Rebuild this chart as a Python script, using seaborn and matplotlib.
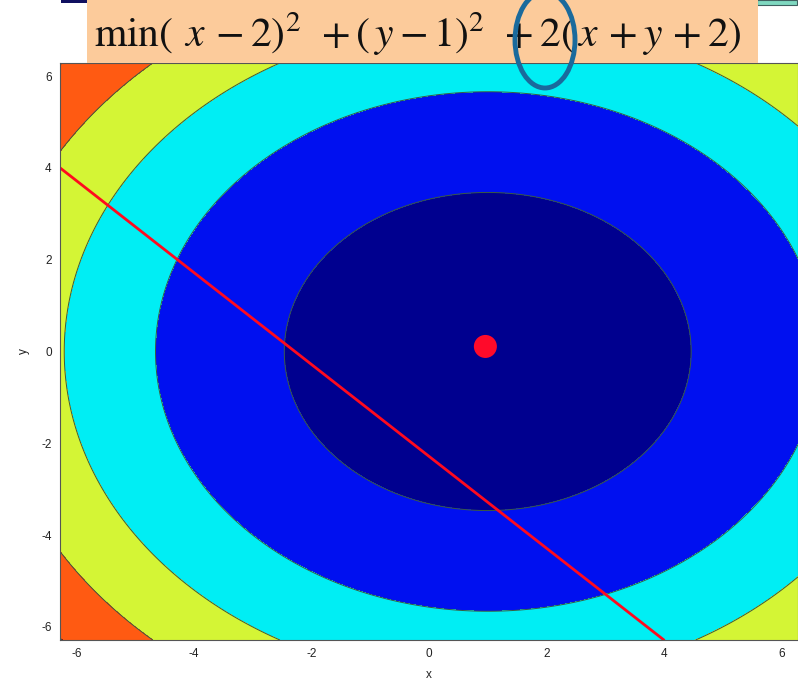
import numpy as np
import pandas as pd
import matplotlib
matplotlib.use("Agg")
import matplotlib.pyplot as plt
from matplotlib.patches import Rectangle, Ellipse
import seaborn as sns

# Objective f(x, y) = (x-2)^2 + (y-1)^2 + 2(x+y+2), sampled on [-2pi, 2pi]^2
x_range = [-2 * np.pi, 2 * np.pi]
y_range = [-2 * np.pi, 2 * np.pi]
contour_levels = [0, 20, 40, 60, 80, 100, 120]
band_colors = ["#00008f", "#0010f0", "#00eef4", "#d4f535", "#ff5a12", "#b00000"]

# Constraint line x + y + 2 = 0 as drawn
constraint_x = [-2 * np.pi, 4.0]
constraint_y = [4.0, -2 * np.pi]

# Minimiser marker
min_x = [0.96]
min_y = [0.11]

x_ticks = [-6, -4, -2, 0, 2, 4, 6]
y_ticks = [-6, -4, -2, 0, 2, 4, 6]

title_text = (r"$\mathrm{min}(\;\,x\,-2)^2\;\,+(\,y-1)^2\;\,+2(\,x\,+y\,+2)$")

sns.set_style("white")
plt.rcParams["font.family"] = ["Liberation Sans", "DejaVu Sans"]
plt.rcParams["mathtext.fontset"] = "stix"
plt.rcParams["axes.unicode_minus"] = False

fig = plt.figure(figsize=(7.98, 6.82), dpi=100)
ax = fig.add_axes([60 / 798, 1 - 640 / 682, (798 - 60) / 798, (640 - 63) / 682])

xs = np.linspace(x_range[0], x_range[1], 400)
ys = np.linspace(y_range[0], y_range[1], 400)
X, Y = np.meshgrid(xs, ys)
Z = (X - 2) ** 2 + (Y - 1) ** 2 + 2 * (X + Y + 2)

ax.contourf(X, Y, Z, levels=contour_levels, colors=band_colors)
ax.contour(X, Y, Z, levels=contour_levels[1:-1], colors="#3a5a40", linewidths=0.7)

line_df = pd.DataFrame({"x": constraint_x, "y": constraint_y})
sns.lineplot(data=line_df, x="x", y="y", ax=ax, color="#ff0a1e", linewidth=2, sort=False)

pt_df = pd.DataFrame({"x": min_x, "y": min_y})
sns.scatterplot(data=pt_df, x="x", y="y", ax=ax, color="#ff0a2a", s=275,
                edgecolor="none", zorder=5)

ax.set_xlim(x_range)
ax.set_ylim(y_range)
ax.set_xticks(x_ticks)
ax.set_yticks(y_ticks)
ax.tick_params(labelsize=8.5, length=0, pad=6, colors="#222222")
ax.set_xlabel("x", fontsize=8.5, labelpad=6, color="#222222")
ax.set_ylabel("y", fontsize=8.5, labelpad=8, color="#222222")
for side in ax.spines.values():
    side.set_color("#555555")
    side.set_linewidth(0.8)

# Slide strips peeking above the heading panel
fig.patches.append(Rectangle((61 / 798, 1 - 3 / 682), 30 / 798, 3 / 682,
                             transform=fig.transFigure, facecolor="#101060",
                             edgecolor="none", zorder=9))
fig.patches.append(Rectangle((757 / 798, 1 - 5 / 682), 40 / 798, 5 / 682,
                             transform=fig.transFigure, facecolor="#7fd8c0",
                             edgecolor="#406060", linewidth=0.8, zorder=9))

# Heading panel with the problem statement
fig.patches.append(Rectangle((87 / 798, 1 - 63 / 682), (758 - 87) / 798, 63 / 682,
                             transform=fig.transFigure, facecolor="#fccb9b",
                             edgecolor="none", zorder=10))
fig.text(418 / 798, 1 - 34 / 682, title_text, fontsize=30, ha="center", va="center",
         color="#111111", zorder=11)
fig.patches.append(Ellipse((545 / 798, 1 - 40 / 682), 60 / 798, 96 / 682,
                           transform=fig.transFigure, facecolor="none",
                           edgecolor="#1a6a9c", linewidth=3.5, zorder=12))

fig.savefig("out.png", dpi=100)
